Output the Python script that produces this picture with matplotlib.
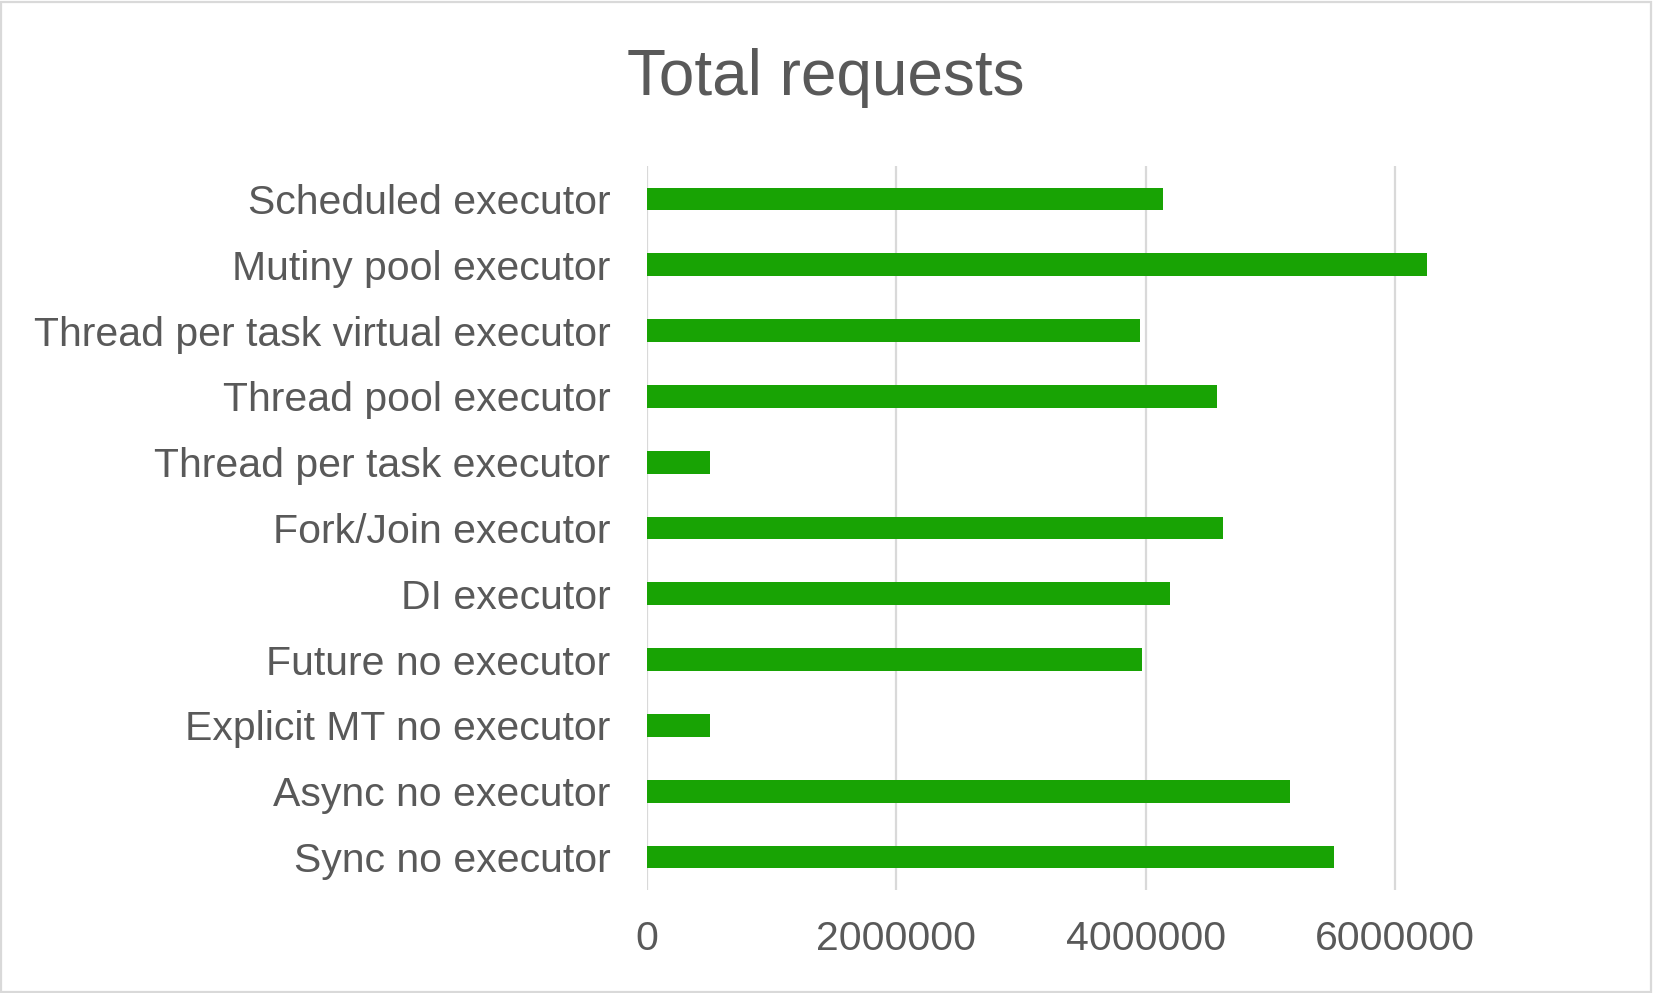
import matplotlib
matplotlib.use("Agg")
import matplotlib.pyplot as plt
from matplotlib.patches import Rectangle

categories = [
    "Sync no executor",
    "Async no executor",
    "Explicit MT no executor",
    "Future no executor",
    "DI executor",
    "Fork/Join executor",
    "Thread per task executor",
    "Thread pool executor",
    "Thread per task virtual executor",
    "Mutiny pool executor",
    "Scheduled executor",
]
values = [5510000, 5158000, 508000, 3971000, 4193000, 4619000, 505000, 4571000, 3953000, 6257000, 4140000]
xticks = [0, 2000000, 4000000, 6000000]
xtick_labels = ["0", "2000000", "4000000", "6000000"]
title = "Total requests"

plt.rcParams['font.family'] = ['Liberation Sans', 'DejaVu Sans']
text_color = '#595959'

fig = plt.figure(figsize=(16.53, 9.93), dpi=100)
W, H = 1653, 993
ax = fig.add_axes([646.6 / W, 1 - 890 / H, (1519.9 - 646.6) / W, (890 - 166) / H])

ypos = list(range(len(categories)))
ax.barh(ypos, values, height=0.345, color='#18A304', zorder=3)
ax.set_ylim(-0.5, len(categories) - 0.5)
ax.set_xlim(0, 7000000)
ax.set_xticks(xticks)
ax.set_xticklabels(xtick_labels)
ax.set_yticks(ypos)
ax.set_yticklabels(categories)
ax.tick_params(axis='both', length=0, labelsize=29.5, colors=text_color)
ax.tick_params(axis='y', pad=26)
ax.tick_params(axis='x', pad=21.5)
for lbl in ax.get_yticklabels():
    lbl.set_y(lbl.get_position()[1])
for s in ax.spines.values():
    s.set_visible(False)
ax.grid(axis='x', color='#d9d9d9', linewidth=1.6, zorder=0)
ax.set_axisbelow(True)

fig.text(825.7 / W, 1 - 95 / H, title, ha='center', va='baseline', fontsize=46, color=text_color)

fig.patches.append(Rectangle((1 / W, 1 / H), 1 - 3 / W, 1 - 3 / H, transform=fig.transFigure,
                             fill=False, edgecolor='#d9d9d9', linewidth=1.6))

fig.savefig('out.png', dpi=100)
